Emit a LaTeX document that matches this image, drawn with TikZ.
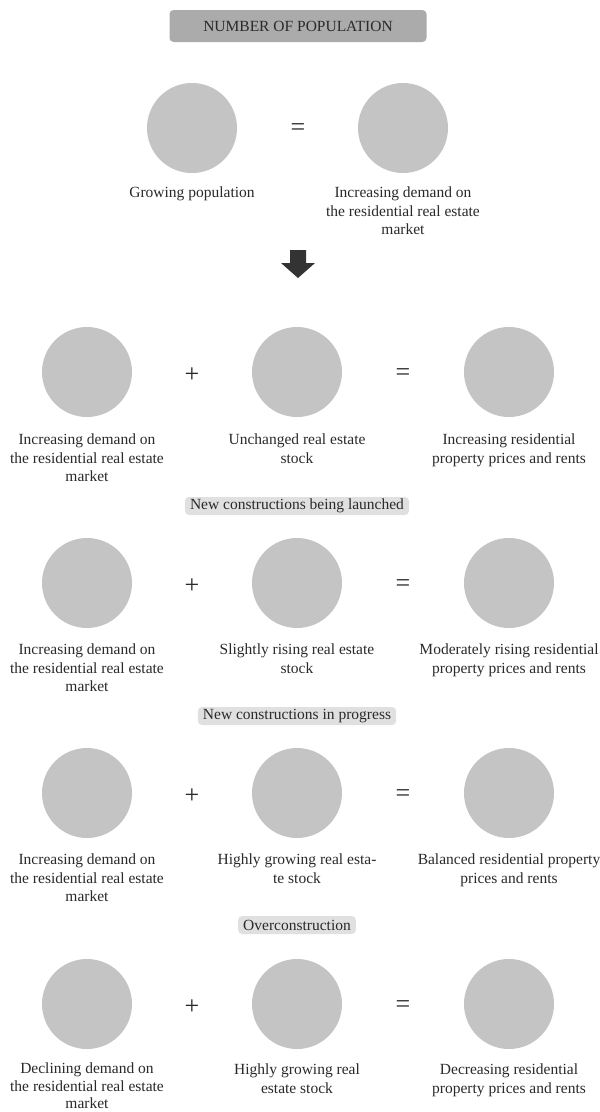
\documentclass[tikz,border=0pt]{standalone}
\usepackage{fontspec}
\setmainfont{Liberation Serif}
\definecolor{circ}{HTML}{C4C4C4}
\definecolor{pillc}{HTML}{E0E0E0}
\definecolor{titlec}{HTML}{ABABAB}
\definecolor{txt}{HTML}{2A2A2A}
\definecolor{arr}{HTML}{333333}
\newcommand{\lblfont}{\fontsize{15.5}{18.5}\selectfont}
\newcommand{\tightfont}{\fontsize{15.5}{17.5}\selectfont}
\newcommand{\opfont}{\fontsize{26}{28}\selectfont}
\tikzset{
  bubble/.style={circle, fill=circ, minimum size=90pt, inner sep=0pt},
  lbl/.style={align=center, anchor=north, inner sep=0pt, font=\lblfont, text=txt},
  pill/.style={rounded corners=4pt, fill=pillc, inner xsep=5pt, inner ysep=0pt, minimum height=18pt, font=\lblfont, text=txt},
  op/.style={font=\opfont, text=txt, inner sep=0pt},
}
\begin{document}
\begin{tikzpicture}[x=1pt,y=-1pt]
\useasboundingbox[fill=white] (0,0) rectangle (600,1112);
% title
\node[rounded corners=4pt, fill=titlec, minimum width=257pt, minimum height=32pt, font=\lblfont, text=txt, inner sep=0pt] (title) at (298,26) {NUMBER OF POPULATION};
% row 1
\node[bubble] (c11) at (192,128) {};
\node[op] (eq1) at (298,130) {=};
\node[bubble] (c12) at (403,128) {};
\node[lbl] (l11) at (192,187) {Growing population};
\node[lbl] (l12) at (403,187) {Increasing demand on\\the residential real estate\\market};
% arrow
\fill[arr] (290,250) -- (306,250) -- (306,263) -- (315,263) -- (298,278) -- (281,263) -- (290,263) -- cycle;
% rows 2-5
\foreach \r/\cy in {2/372, 3/583, 4/793, 5/1004}{
  \node[bubble] (c\r1) at (87,\cy) {};
  \node[op] (p\r) at (192,\cy+3) {+};
  \node[bubble] (c\r2) at (297,\cy) {};
  \node[op] (e\r) at (403,\cy+3) {=};
  \node[bubble] (c\r3) at (509,\cy) {};
}
\node[lbl] (l21) at (87,434) {Increasing demand on\\the residential real estate\\market};
\node[lbl] (l22) at (297,434) {Unchanged real estate\\stock};
\node[lbl] (l23) at (509,434) {Increasing residential\\property prices and rents};
\node[pill] (s1) at (297,506) {New constructions being launched};
\node[lbl] (l31) at (87,644) {Increasing demand on\\the residential real estate\\market};
\node[lbl] (l32) at (297,644) {Slightly rising real estate\\stock};
\node[lbl] (l33) at (509,644) {Moderately rising residential\\property prices and rents};
\node[pill] (s2) at (297,716) {New constructions in progress};
\node[lbl] (l41) at (87,854) {Increasing demand on\\the residential real estate\\market};
\node[lbl] (l42) at (297,854) {Highly growing real esta-\\te stock};
\node[lbl] (l43) at (509,854) {Balanced residential property\\prices and rents};
\node[pill] (s3) at (297,925) {Overconstruction};
\node[lbl, font=\tightfont] (l51) at (87,1063) {Declining demand on\\the residential real estate\\market};
\node[lbl] (l52) at (297,1064) {Highly growing real\\estate stock};
\node[lbl] (l53) at (509,1064) {Decreasing residential\\property prices and rents};
\end{tikzpicture}
\end{document}
